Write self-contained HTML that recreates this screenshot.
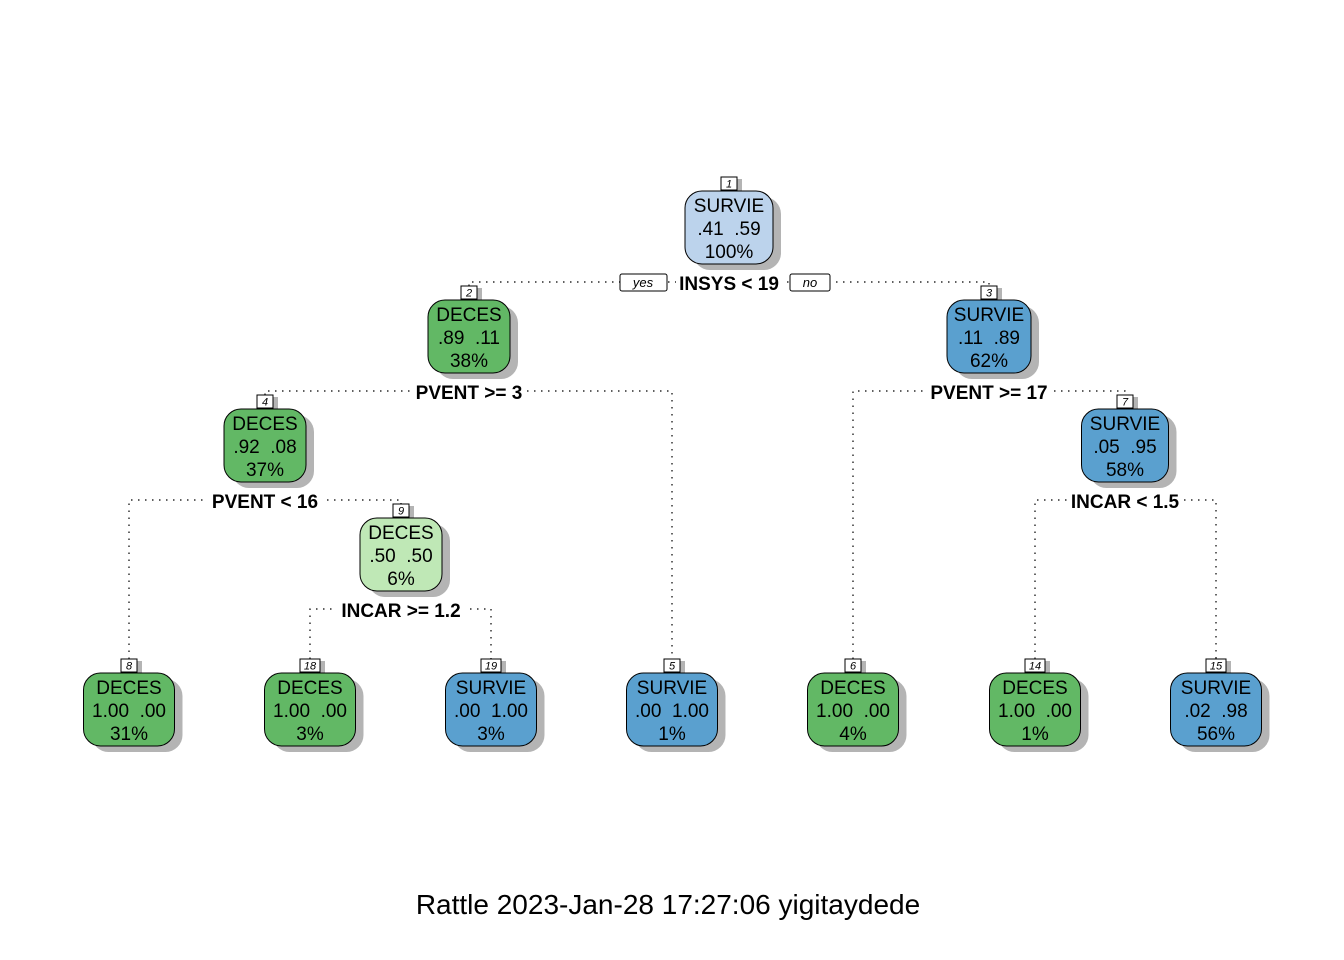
<!DOCTYPE html>
<html><head><meta charset="utf-8"><style>
html,body{margin:0;padding:0;background:#fff;}
svg{display:block;font-family:"Liberation Sans",Arial,sans-serif;}
.e{stroke:#000;stroke-width:1.2;stroke-dasharray:1.5 5.5;fill:none;}
.lb{font-weight:bold;font-size:19px;text-anchor:middle;}
.nt{font-size:19px;text-anchor:middle;}
.nn{font-size:11px;font-style:italic;text-anchor:middle;}
.sh{fill:#b4b4b4;}
.bx{stroke:#000;stroke-width:1;}
.nb{fill:#fff;stroke:#000;stroke-width:1;}
</style></head><body>
<svg width="1344" height="960" viewBox="0 0 1344 960">
<g class="e">
<path d="M469 286 V282 H989 V286"/>
<path d="M265 395 V391 H672 V659"/>
<path d="M129 659 V500 H401 V504"/>
<path d="M310 659 V609 H491 V659"/>
<path d="M853 659 V391 H1125 V395"/>
<path d="M1035 659 V500 H1216 V659"/>
</g>
<g fill="#fff">
<rect x="676" y="272" width="107" height="20"/>
<rect x="412" y="381" width="114" height="20"/>
<rect x="208" y="490" width="114" height="20"/>
<rect x="337" y="599" width="128" height="20"/>
<rect x="927" y="381" width="124" height="20"/>
<rect x="1068" y="490" width="116" height="20"/>
</g>
<g class="lb">
<text x="729" y="290">INSYS &lt; 19</text>
<text x="469" y="399">PVENT &gt;= 3</text>
<text x="265" y="508">PVENT &lt; 16</text>
<text x="401" y="617">INCAR &gt;= 1.2</text>
<text x="989" y="399">PVENT &gt;= 17</text>
<text x="1125" y="508">INCAR &lt; 1.5</text>
</g>
<rect x="620" y="274" width="47" height="17" rx="2" fill="#fff" stroke="#000"/>
<text x="643" y="287" class="nn" style="font-size:13px">yes</text>
<rect x="790" y="274" width="40" height="17" rx="2" fill="#fff" stroke="#000"/>
<text x="810" y="287" class="nn" style="font-size:13px">no</text>

<g transform="translate(729,191)"><rect class="sh" x="-36" y="6" width="88" height="73" rx="17"/><rect class="sh" x="-3" y="-12" width="16" height="13"/><rect class="bx" x="-44" y="0" width="88" height="73" rx="17" fill="#bcd3ec"/><rect class="nb" x="-8" y="-14" width="16" height="13"/><text class="nn" y="-3.5">1</text><text class="nt" y="21">SURVIE</text><text class="nt" y="44">.41&#160;&#160;.59</text><text class="nt" y="67">100%</text></g>

<g transform="translate(469,300)"><rect class="sh" x="-33" y="6" width="82" height="73" rx="17"/><rect class="sh" x="-3" y="-12" width="16" height="13"/><rect class="bx" x="-41" y="0" width="82" height="73" rx="17" fill="#62b865"/><rect class="nb" x="-8" y="-14" width="16" height="13"/><text class="nn" y="-3.5">2</text><text class="nt" y="21">DECES</text><text class="nt" y="44">.89&#160;&#160;.11</text><text class="nt" y="67">38%</text></g>

<g transform="translate(989,300)"><rect class="sh" x="-34" y="6" width="84" height="73" rx="17"/><rect class="sh" x="-3" y="-12" width="16" height="13"/><rect class="bx" x="-42" y="0" width="84" height="73" rx="17" fill="#5aa0cf"/><rect class="nb" x="-8" y="-14" width="16" height="13"/><text class="nn" y="-3.5">3</text><text class="nt" y="21">SURVIE</text><text class="nt" y="44">.11&#160;&#160;.89</text><text class="nt" y="67">62%</text></g>

<g transform="translate(265,409)"><rect class="sh" x="-33" y="6" width="82" height="73" rx="17"/><rect class="sh" x="-3" y="-12" width="16" height="13"/><rect class="bx" x="-41" y="0" width="82" height="73" rx="17" fill="#62b865"/><rect class="nb" x="-8" y="-14" width="16" height="13"/><text class="nn" y="-3.5">4</text><text class="nt" y="21">DECES</text><text class="nt" y="44">.92&#160;&#160;.08</text><text class="nt" y="67">37%</text></g>

<g transform="translate(1125,409)"><rect class="sh" x="-35.5" y="6" width="87" height="73" rx="17"/><rect class="sh" x="-3" y="-12" width="16" height="13"/><rect class="bx" x="-43.5" y="0" width="87" height="73" rx="17" fill="#5aa0cf"/><rect class="nb" x="-8" y="-14" width="16" height="13"/><text class="nn" y="-3.5">7</text><text class="nt" y="21">SURVIE</text><text class="nt" y="44">.05&#160;&#160;.95</text><text class="nt" y="67">58%</text></g>

<g transform="translate(401,518)"><rect class="sh" x="-33" y="6" width="82" height="73" rx="17"/><rect class="sh" x="-3" y="-12" width="16" height="13"/><rect class="bx" x="-41" y="0" width="82" height="73" rx="17" fill="#bfe8b6"/><rect class="nb" x="-8" y="-14" width="16" height="13"/><text class="nn" y="-3.5">9</text><text class="nt" y="21">DECES</text><text class="nt" y="44">.50&#160;&#160;.50</text><text class="nt" y="67">6%</text></g>

<g transform="translate(129,673)"><rect class="sh" x="-37.5" y="6" width="91" height="73" rx="17"/><rect class="sh" x="-3" y="-12" width="16" height="13"/><rect class="bx" x="-45.5" y="0" width="91" height="73" rx="17" fill="#62b865"/><rect class="nb" x="-8" y="-14" width="16" height="13"/><text class="nn" y="-3.5">8</text><text class="nt" y="21">DECES</text><text class="nt" y="44">1.00&#160;&#160;.00</text><text class="nt" y="67">31%</text></g>

<g transform="translate(310,673)"><rect class="sh" x="-37.5" y="6" width="91" height="73" rx="17"/><rect class="sh" x="-5" y="-12" width="20" height="13"/><rect class="bx" x="-45.5" y="0" width="91" height="73" rx="17" fill="#62b865"/><rect class="nb" x="-10" y="-14" width="20" height="13"/><text class="nn" y="-3.5">18</text><text class="nt" y="21">DECES</text><text class="nt" y="44">1.00&#160;&#160;.00</text><text class="nt" y="67">3%</text></g>

<g transform="translate(491,673)"><rect class="sh" x="-37.5" y="6" width="91" height="73" rx="17"/><rect class="sh" x="-5" y="-12" width="20" height="13"/><rect class="bx" x="-45.5" y="0" width="91" height="73" rx="17" fill="#5aa0cf"/><rect class="nb" x="-10" y="-14" width="20" height="13"/><text class="nn" y="-3.5">19</text><text class="nt" y="21">SURVIE</text><text class="nt" y="44">.00&#160;&#160;1.00</text><text class="nt" y="67">3%</text></g>

<g transform="translate(672,673)"><rect class="sh" x="-37.5" y="6" width="91" height="73" rx="17"/><rect class="sh" x="-3" y="-12" width="16" height="13"/><rect class="bx" x="-45.5" y="0" width="91" height="73" rx="17" fill="#5aa0cf"/><rect class="nb" x="-8" y="-14" width="16" height="13"/><text class="nn" y="-3.5">5</text><text class="nt" y="21">SURVIE</text><text class="nt" y="44">.00&#160;&#160;1.00</text><text class="nt" y="67">1%</text></g>

<g transform="translate(853,673)"><rect class="sh" x="-37.5" y="6" width="91" height="73" rx="17"/><rect class="sh" x="-3" y="-12" width="16" height="13"/><rect class="bx" x="-45.5" y="0" width="91" height="73" rx="17" fill="#62b865"/><rect class="nb" x="-8" y="-14" width="16" height="13"/><text class="nn" y="-3.5">6</text><text class="nt" y="21">DECES</text><text class="nt" y="44">1.00&#160;&#160;.00</text><text class="nt" y="67">4%</text></g>

<g transform="translate(1035,673)"><rect class="sh" x="-37.5" y="6" width="91" height="73" rx="17"/><rect class="sh" x="-5" y="-12" width="20" height="13"/><rect class="bx" x="-45.5" y="0" width="91" height="73" rx="17" fill="#62b865"/><rect class="nb" x="-10" y="-14" width="20" height="13"/><text class="nn" y="-3.5">14</text><text class="nt" y="21">DECES</text><text class="nt" y="44">1.00&#160;&#160;.00</text><text class="nt" y="67">1%</text></g>

<g transform="translate(1216,673)"><rect class="sh" x="-37.5" y="6" width="91" height="73" rx="17"/><rect class="sh" x="-5" y="-12" width="20" height="13"/><rect class="bx" x="-45.5" y="0" width="91" height="73" rx="17" fill="#5aa0cf"/><rect class="nb" x="-10" y="-14" width="20" height="13"/><text class="nn" y="-3.5">15</text><text class="nt" y="21">SURVIE</text><text class="nt" y="44">.02&#160;&#160;.98</text><text class="nt" y="67">56%</text></g>

<text x="668" y="914" style="font-size:28px;text-anchor:middle">Rattle 2023-Jan-28 17:27:06 yigitaydede</text>
</svg>
</body></html>
